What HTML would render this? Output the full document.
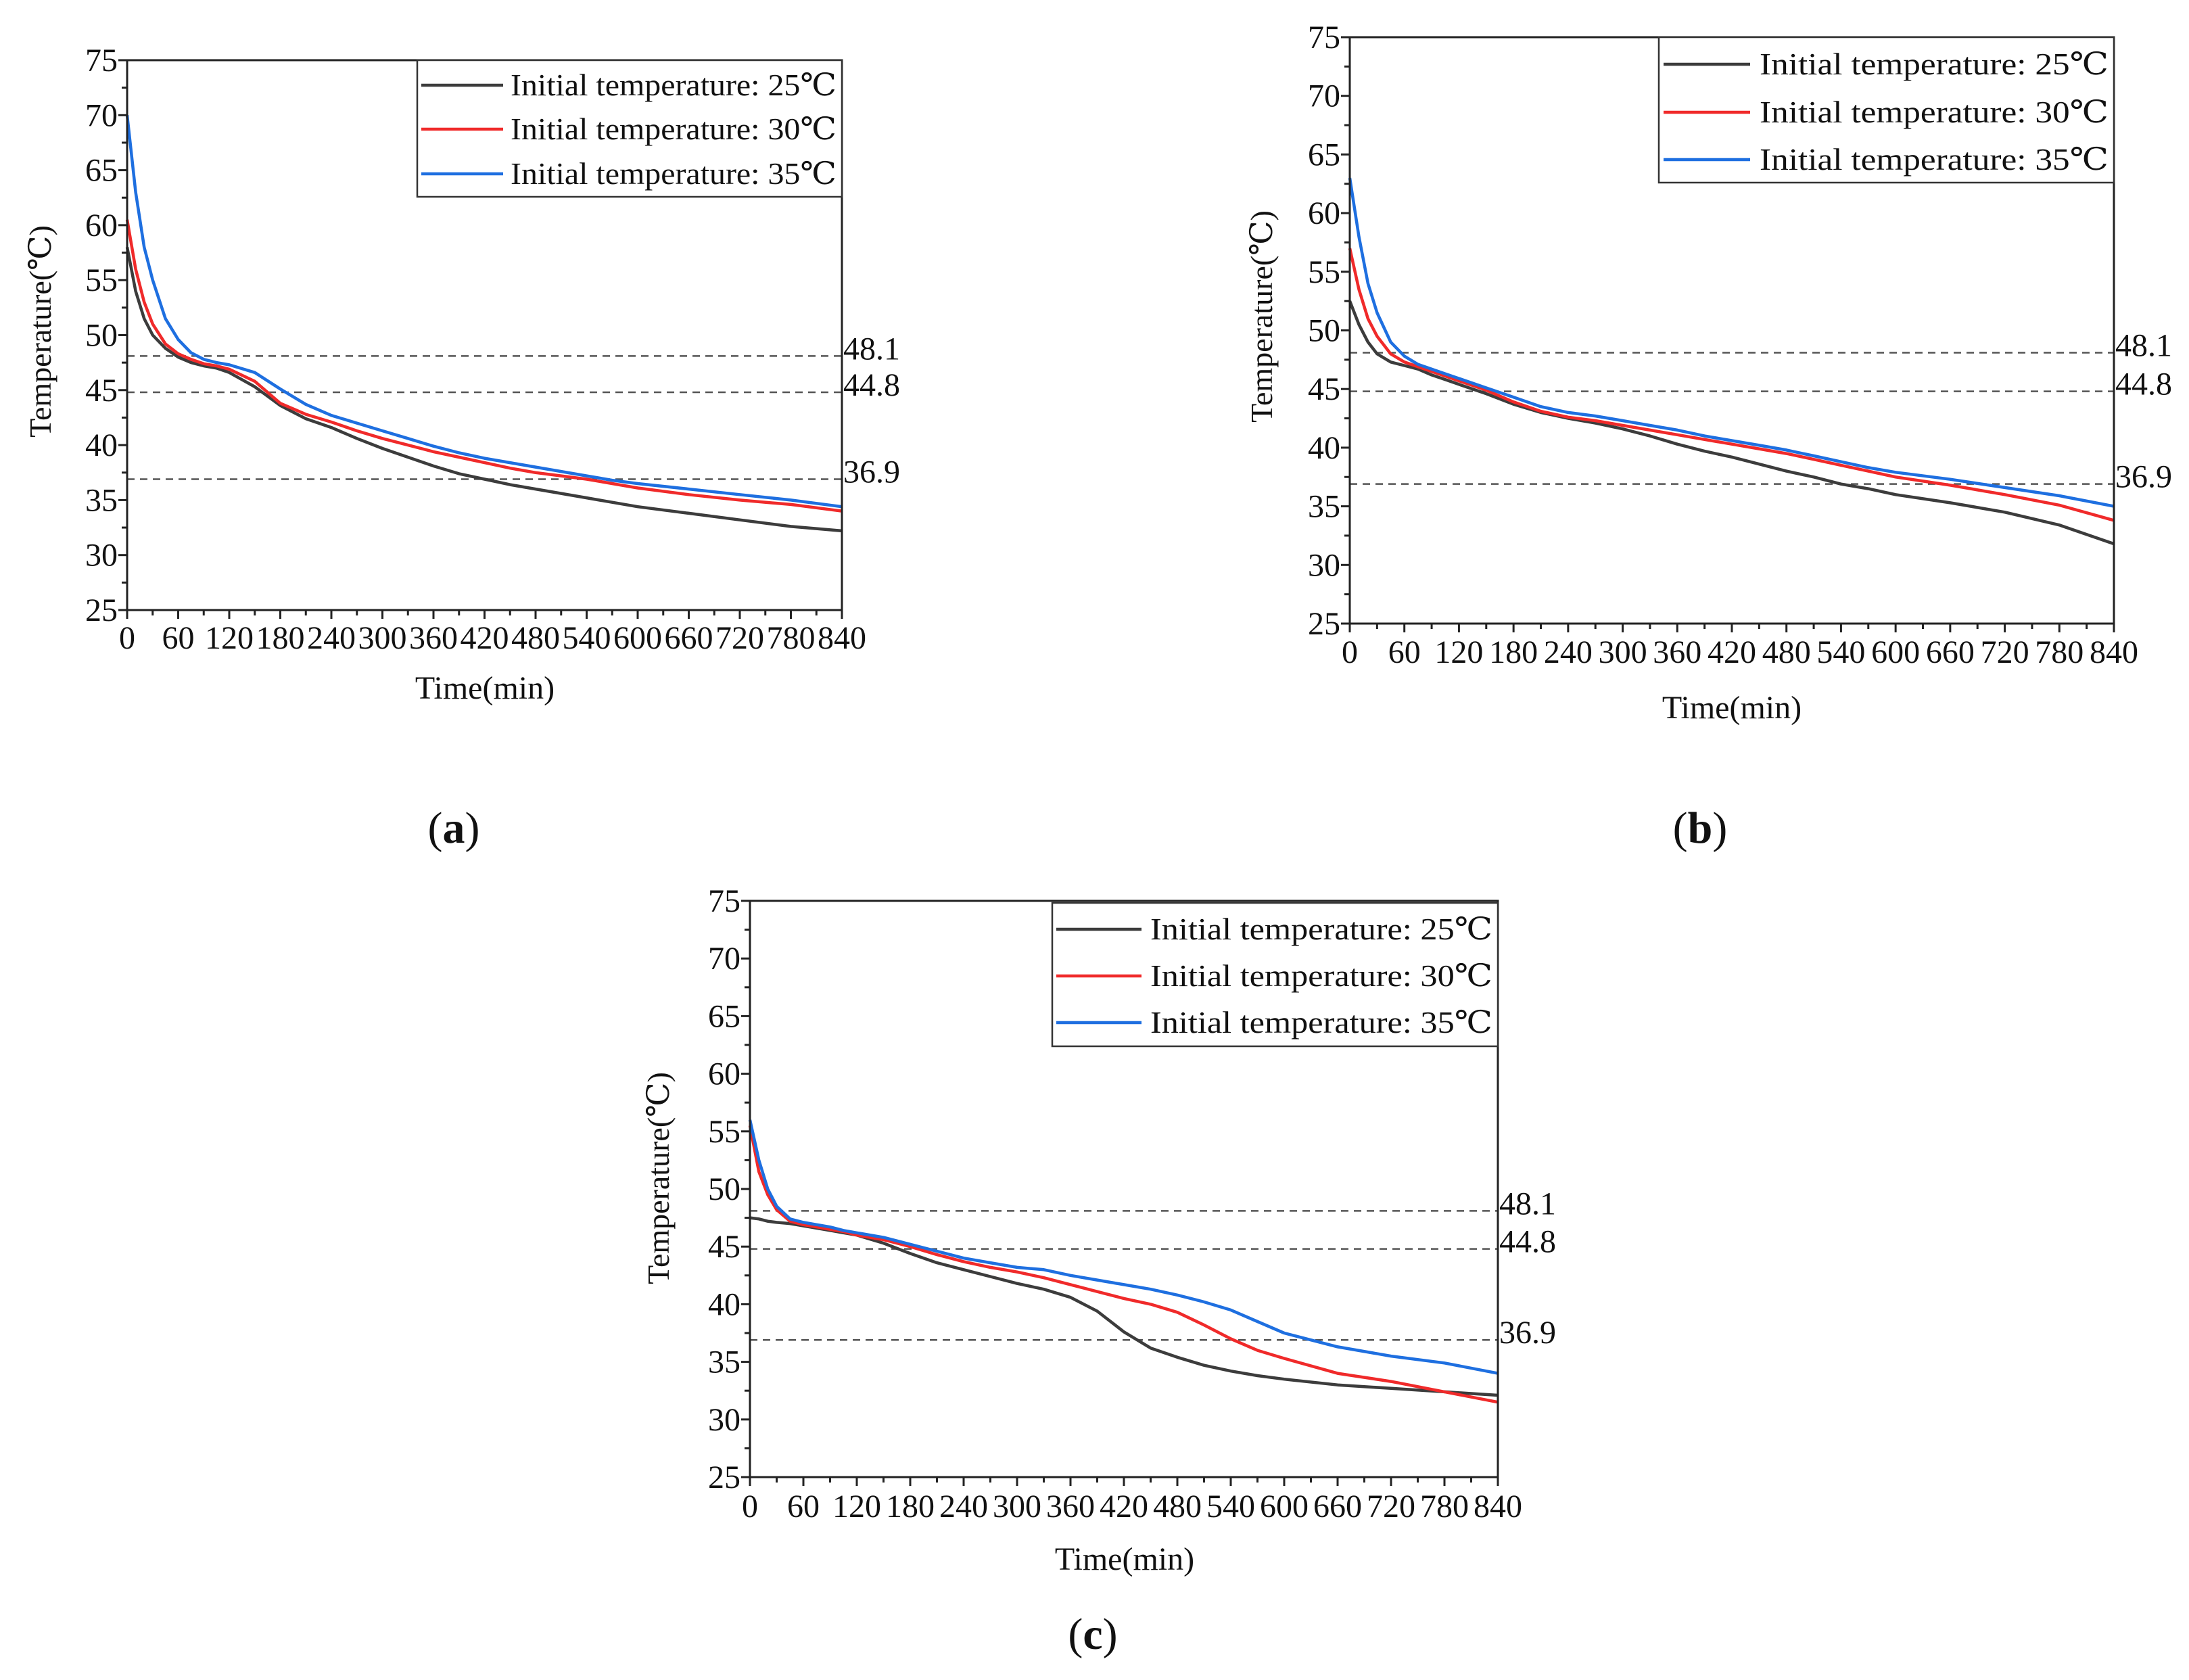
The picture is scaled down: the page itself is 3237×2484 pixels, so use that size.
<!DOCTYPE html>
<html><head><meta charset="utf-8"><style>
html,body{margin:0;padding:0;background:#fff;}
svg{display:block;font-family:"Liberation Serif","DejaVu Serif",serif;}
</style></head><body>
<svg id="fig" width="3237" height="2484" viewBox="0 0 3237 2484" xmlns="http://www.w3.org/2000/svg">
<rect width="3237" height="2484" fill="#fff"/>
</svg>
<script>
const times = [0,10,20,30,45,60,75,90,105,120,150,180,210,240,270,300,330,360,390,420,450,480,510,540,570,600,660,720,780,840];
const a25 = [58,54,51.5,50,48.8,48,47.5,47.2,47,46.6,45.3,43.6,42.4,41.6,40.6,39.7,38.9,38.1,37.4,36.9,36.4,36,35.6,35.2,34.8,34.4,33.8,33.2,32.6,32.2];
const a30 = [60.5,56,53,51,49.2,48.3,47.8,47.4,47.2,46.9,45.8,43.8,42.8,42.1,41.3,40.6,40,39.4,38.9,38.4,37.9,37.5,37.2,36.9,36.5,36.1,35.5,35,34.6,34];
const a35 = [70,63,58,55,51.5,49.6,48.4,47.8,47.5,47.3,46.6,45.1,43.7,42.7,42,41.3,40.6,39.9,39.3,38.8,38.4,38,37.6,37.2,36.8,36.5,36,35.5,35,34.4];
const b25 = [52.5,50.5,49,48,47.3,47,46.7,46.2,45.8,45.4,44.6,43.7,43,42.5,42.1,41.6,41,40.3,39.7,39.2,38.6,38,37.5,36.9,36.5,36,35.3,34.5,33.4,31.8];
const b30 = [57,53.5,51,49.5,48,47.3,46.9,46.5,46.1,45.7,44.9,43.9,43.1,42.6,42.3,41.9,41.5,41.1,40.7,40.3,39.9,39.5,39,38.5,38,37.5,36.8,36,35.1,33.8];
const b35 = [63,58,54,51.5,49,47.8,47.1,46.7,46.3,45.9,45.1,44.3,43.5,43,42.7,42.3,41.9,41.5,41,40.6,40.2,39.8,39.3,38.8,38.3,37.9,37.3,36.6,35.9,35];
const c25 = [47.5,47.4,47.2,47.1,47,46.8,46.6,46.4,46.2,46,45.3,44.4,43.6,43,42.4,41.8,41.3,40.6,39.4,37.6,36.2,35.4,34.7,34.2,33.8,33.5,33,32.7,32.4,32.1];
const c30 = [55.5,51.5,49.5,48.2,47.2,46.9,46.7,46.5,46.3,46,45.6,45,44.3,43.7,43.2,42.8,42.3,41.7,41.1,40.5,40,39.3,38.2,37,36,35.3,34,33.3,32.4,31.5];
const c35 = [56,52.5,50,48.5,47.4,47.1,46.9,46.7,46.4,46.2,45.8,45.2,44.6,44,43.6,43.2,43,42.5,42.1,41.7,41.3,40.8,40.2,39.5,38.5,37.5,36.3,35.5,34.9,34];
const refLines = [48.1,44.8,36.9];
const refLabels = ["48.1","44.8","36.9"];
const xTicks = [0,60,120,180,240,300,360,420,480,540,600,660,720,780,840];
const yTicks = [25,30,35,40,45,50,55,60,65,70,75];
const legendLabels = ["Initial temperature: 25\u2103","Initial temperature: 30\u2103","Initial temperature: 35\u2103"];
const colors = ["#3c3c3c","#f02a2a","#1e6fe0"];

const NS = "http://www.w3.org/2000/svg";
const fig = document.getElementById('fig');
function mk(tag, attrs, parent, txt){
  const e = document.createElementNS(NS, tag);
  for (const k in attrs) e.setAttribute(k, attrs[k]);
  if (txt !== undefined) e.textContent = txt;
  parent.appendChild(e);
  return e;
}

const panels = [
  {id:'a', L:188, R:1245, T:89, B:902, series:[a25,a30,a35], leg:{x1:617,x2:1245,y1:89,y2:291,rows:[126,191,257],s1:623,s2:744,tx:755},
   xlab:[717,1017], ylab:[60,490], xtickY:943, cap:[671,1240]},
  {id:'b', L:1996, R:3126, T:55, B:922, series:[b25,b30,b35], leg:{x1:2453,x2:3126,y1:55,y2:270,rows:[95,166,236],s1:2460,s2:2588,tx:2602},
   xlab:[2561,1046], ylab:[1866,468], xtickY:964, cap:[2514,1240]},
  {id:'c', L:1109, R:2215, T:1332, B:2184, series:[c25,c30,c35], leg:{x1:1556,x2:2215,y1:1335,y2:1547,rows:[1374,1443,1512],s1:1562,s2:1688,tx:1701},
   xlab:[1663,2305], ylab:[974,1742], xtickY:2227, cap:[1616,2432]}
];

panels.forEach(p => {
  const g = mk('g', {}, fig);
  
  
  const xs = t => p.L + (t/840)*(p.R-p.L);
  const ys = v => p.B - ((v-25)/50)*(p.B-p.T);

  refLines.forEach((v,i) => {
    const l = mk('line', {x1:p.L, x2:p.R, y1:ys(v), y2:ys(v), stroke:'#555', 'stroke-width':2.5, 'stroke-dasharray':'11 8'}, g);
    
    
    const t = mk('text', {x:p.R+2, y:ys(v)+5, 'font-size':48, fill:'#111'}, g, refLabels[i]);
    
    
  });

  p.series.forEach((arr,si) => {
    const d = arr.map((v,i) => (i?'L':'M') + xs(times[i]).toFixed(1) + ' ' + ys(v).toFixed(1)).join(' ');
    const path = mk('path', {d:d, fill:'none', stroke:colors[si], 'stroke-width':4.5, 'stroke-linejoin':'round'}, g);
    
    
  });

  const fr = mk('rect', {x:p.L, y:p.T, width:p.R-p.L, height:p.B-p.T, fill:'none', stroke:'#222', 'stroke-width':3}, g);
  
  

  for (let v=25; v<=75; v+=2.5){
    const major = (v % 5 === 0);
    mk('line', {x1:p.L, x2:p.L-(major?13:8), y1:ys(v), y2:ys(v), stroke:'#222', 'stroke-width':3}, g);
  }
  yTicks.forEach(v => {
    const t = mk('text', {x:p.L-14, y:ys(v)+16, 'font-size':48, 'text-anchor':'end', fill:'#111'}, g, String(v));
    
    
  });
  for (let t=0; t<=840; t+=30){
    const major = (t % 60 === 0);
    mk('line', {x1:xs(t), x2:xs(t), y1:p.B, y2:p.B+(major?13:8), stroke:'#222', 'stroke-width':3}, g);
  }
  xTicks.forEach(v => {
    const t = mk('text', {x:xs(v), y:p.xtickY+16, 'font-size':48, 'text-anchor':'middle', fill:'#111'}, g, String(v));
    
    
  });

  const xt = mk('text', {x:p.xlab[0], y:p.xlab[1]+16, 'font-size':48, 'text-anchor':'middle', fill:'#111'}, g, 'Time(min)');
  
  
  const yt = mk('text', {x:0, y:0, 'font-size':46, 'text-anchor':'middle', fill:'#111', transform:`translate(${p.ylab[0]+15},${p.ylab[1]}) rotate(-90)`}, g, 'Temperature(\u2103)');
  
  

  const lg = mk('g', {}, g);
  
  
  mk('rect', {x:p.leg.x1, y:p.leg.y1, width:p.leg.x2-p.leg.x1, height:p.leg.y2-p.leg.y1, fill:'#fff', stroke:'#333', 'stroke-width':2.5}, lg);
  p.leg.rows.forEach((ry,i) => {
    const e = mk('g', {}, lg);
    
    
    mk('line', {x1:p.leg.s1, x2:p.leg.s2, y1:ry, y2:ry, stroke:colors[i], 'stroke-width':4.5}, e);
    mk('text', {x:p.leg.tx, y:ry+15, 'font-size':46, fill:'#111', textLength:(p.leg.x2-8-p.leg.tx), lengthAdjust:'spacingAndGlyphs'}, e, legendLabels[i]);
  });

  const cap = mk('text', {x:p.cap[0], y:p.cap[1]+6, 'font-size':66, 'text-anchor':'middle', fill:'#111'}, g);
  
  
  mk('tspan', {}, cap, '(');
  mk('tspan', {'font-weight':'bold'}, cap, p.id);
  mk('tspan', {}, cap, ')');
});
</script>
</body></html>
